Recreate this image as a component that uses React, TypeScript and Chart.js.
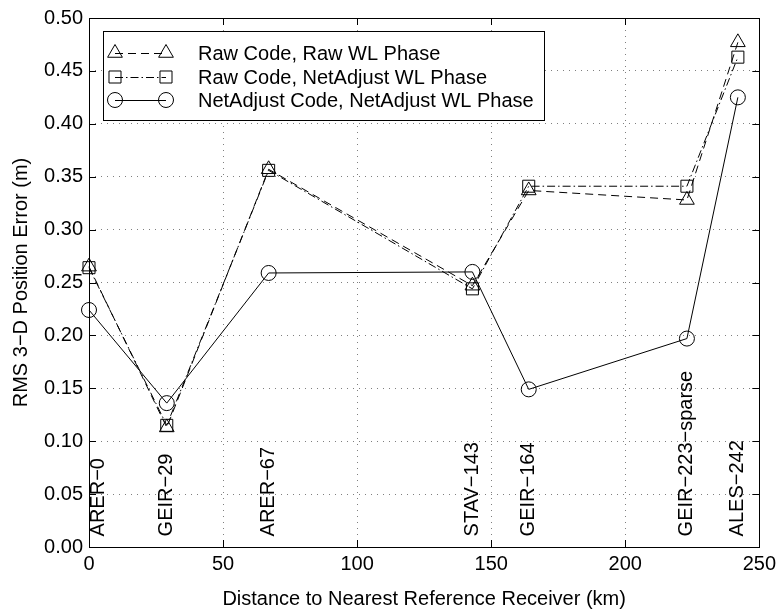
import React, { useEffect, useRef } from "react";
import { Chart, registerables } from "chart.js";

Chart.register(...registerables);

// ---- data ----
const distances = [0, 29, 67, 143, 164, 223, 242];
const rawCodeRawWL = [0.265, 0.113, 0.357, 0.247, 0.337, 0.328, 0.477];
const rawCodeNetWL = [0.264, 0.115, 0.356, 0.244, 0.341, 0.341, 0.463];
const netCodeNetWL = [0.224, 0.136, 0.259, 0.26, 0.149, 0.197, 0.425];
const seriesNames = [
  "Raw Code, Raw WL Phase",
  "Raw Code, NetAdjust WL Phase",
  "NetAdjust Code, NetAdjust WL Phase",
];
const stationNames = [
  "ARER−0",
  "GEIR−29",
  "ARER−67",
  "STAV−143",
  "GEIR−164",
  "GEIR−223−sparse",
  "ALES−242",
];
const stationLabelX = [3.7, 29, 67, 143, 164, 223, 242];
const stationLabelY = 0.01;
const xTicks = [0, 50, 100, 150, 200, 250];
const yTicks = [0, 0.05, 0.1, 0.15, 0.2, 0.25, 0.3, 0.35, 0.4, 0.45, 0.5];
const xTitle = "Distance to Nearest Reference Receiver (km)";
const yTitle = "RMS 3−D Position Error (m)";

const FONT = "'Liberation Sans', Arial, Helvetica, sans-serif";
const FS = 20;

function drawMarker(ctx: CanvasRenderingContext2D, style: string, x: number, y: number, r: number) {
  ctx.beginPath();
  if (style === "circle") {
    ctx.arc(x, y, r, 0, Math.PI * 2);
  } else if (style === "rect") {
    const s = Math.SQRT1_2 * r;
    ctx.rect(x - s, y - s, 2 * s, 2 * s);
  } else {
    let rad = 0;
    ctx.moveTo(x + Math.sin(rad) * r, y - Math.cos(rad) * r);
    rad += (2 * Math.PI) / 3;
    ctx.lineTo(x + Math.sin(rad) * r, y - Math.cos(rad) * r);
    rad += (2 * Math.PI) / 3;
    ctx.lineTo(x + Math.sin(rad) * r, y - Math.cos(rad) * r);
    ctx.closePath();
  }
  ctx.stroke();
}

const decorPlugin = {
  id: "decor",
  afterDatasetsDraw(chart: any) {
    const ctx: CanvasRenderingContext2D = chart.ctx;
    const xs = chart.scales.x;
    const ys = chart.scales.y;
    // station labels
    ctx.save();
    ctx.fillStyle = "#000";
    ctx.font = `${FS}px ${FONT}`;
    ctx.textAlign = "left";
    ctx.textBaseline = "middle";
    stationNames.forEach((name, i) => {
      const px = xs.getPixelForValue(stationLabelX[i]);
      const py = ys.getPixelForValue(stationLabelY);
      ctx.save();
      ctx.translate(px, py);
      ctx.rotate(-Math.PI / 2);
      ctx.fillText(name, 0, 0);
      ctx.restore();
    });
    ctx.restore();
  },
  afterDraw(chart: any) {
    const ctx: CanvasRenderingContext2D = chart.ctx;
    const { left, right, top, bottom } = chart.chartArea;
    const xs = chart.scales.x;
    const ys = chart.scales.y;
    ctx.save();
    ctx.strokeStyle = "#000";
    ctx.lineWidth = 1;
    ctx.setLineDash([]);
    // inward tick marks
    const tl = 7;
    ctx.beginPath();
    xTicks.forEach((v) => {
      const px = Math.round(xs.getPixelForValue(v)) + 0.5;
      ctx.moveTo(px, bottom);
      ctx.lineTo(px, bottom - tl);
      ctx.moveTo(px, top);
      ctx.lineTo(px, top + tl);
    });
    yTicks.forEach((v) => {
      const py = Math.round(ys.getPixelForValue(v)) + 0.5;
      ctx.moveTo(left, py);
      ctx.lineTo(left + tl, py);
      ctx.moveTo(right, py);
      ctx.lineTo(right - tl, py);
    });
    ctx.stroke();
    // frame
    ctx.strokeRect(Math.round(left) + 0.5, Math.round(top) + 0.5, Math.round(right - left), Math.round(bottom - top));

    // legend
    const bx = 103.5, by = 31.5, bw = 441, bh = 89;
    ctx.fillStyle = "#fff";
    ctx.fillRect(bx, by, bw, bh);
    ctx.strokeRect(bx, by, bw, bh);
    const rowsY = [53, 77, 100];
    const x1 = 115, x2 = 166, tx = 198;
    chart.data.datasets.forEach((ds: any, i: number) => {
      const y = rowsY[i];
      ctx.strokeStyle = "#000";
      ctx.lineWidth = 1;
      ctx.setLineDash(ds.borderDash || []);
      ctx.beginPath();
      ctx.moveTo(x1, y + 0.5);
      ctx.lineTo(x2, y + 0.5);
      ctx.stroke();
      ctx.setLineDash([]);
      drawMarker(ctx, ds.pointStyle, x1, y, ds.pointRadius);
      drawMarker(ctx, ds.pointStyle, x2, y, ds.pointRadius);
      ctx.fillStyle = "#000";
      ctx.font = `${FS}px ${FONT}`;
      ctx.textAlign = "left";
      ctx.textBaseline = "middle";
      ctx.fillText(ds.label, tx, y + 1);
    });
    ctx.restore();
  },
};

export default function App() {
  const ref = useRef<HTMLCanvasElement | null>(null);
  useEffect(() => {
    document.body.style.margin = "0";
    const canvas = ref.current;
    if (!canvas) return;
    Chart.defaults.font.family = FONT;
    const mk = (v: number[]) => distances.map((d, i) => ({ x: d, y: v[i] }));
    const common = {
      borderColor: "#000",
      borderWidth: 1,
      pointBorderColor: "#000",
      pointBackgroundColor: "rgba(0,0,0,0)",
      pointBorderWidth: 1,
      fill: false,
      tension: 0,
      clip: false as const,
    };
    const chart = new Chart(canvas, {
      type: "line",
      data: {
        datasets: [
          { ...common, label: seriesNames[0], data: mk(rawCodeRawWL), borderDash: [8, 5], pointStyle: "triangle", pointRadius: 8.5 },
          { ...common, label: seriesNames[1], data: mk(rawCodeNetWL), borderDash: [8, 3, 1.5, 3], pointStyle: "rect", pointRadius: 8.5 },
          { ...common, label: seriesNames[2], data: mk(netCodeNetWL), pointStyle: "circle", pointRadius: 7.5 },
        ] as any,
      },
      options: {
        animation: false,
        responsive: false,
        devicePixelRatio: 1,
        layout: { padding: { left: 0, right: 21, top: 17, bottom: 0 } },
        plugins: { legend: { display: false }, tooltip: { enabled: false } },
        scales: {
          x: {
            type: "linear",
            min: 0,
            max: 250,
            afterBuildTicks: (s: any) => {
              s.ticks = xTicks.map((v) => ({ value: v }));
            },
            afterFit: (s: any) => {
              s.height = 64;
            },
            ticks: {
              color: "#000",
              font: { size: FS, family: FONT },
              padding: 5,
              maxRotation: 0,
              callback: (v: any) => String(v),
            },
            grid: { color: "rgba(0,0,0,0.5)", lineWidth: 1, drawTicks: false },
            border: { display: false, dash: [1, 5] },
            title: {
              display: true,
              text: xTitle,
              color: "#000",
              font: { size: FS, family: FONT },
              padding: { top: 0, bottom: 0 },
            },
          },
          y: {
            type: "linear",
            min: 0,
            max: 0.5,
            afterBuildTicks: (s: any) => {
              s.ticks = yTicks.map((v) => ({ value: v }));
            },
            afterFit: (s: any) => {
              s.width = 89;
            },
            ticks: {
              color: "#000",
              font: { size: FS, family: FONT },
              padding: 6,
              callback: (v: any) => Number(v).toFixed(2),
            },
            grid: { color: "rgba(0,0,0,0.5)", lineWidth: 1, drawTicks: false },
            border: { display: false, dash: [1, 5] },
            title: {
              display: true,
              text: yTitle,
              color: "#000",
              font: { size: FS, family: FONT },
              padding: { top: 9, bottom: 0 },
            },
          },
        },
      },
      plugins: [decorPlugin],
    });
    return () => chart.destroy();
  }, []);
  return (
    <canvas
      ref={ref}
      width={781}
      height={611}
      style={{ display: "block", width: 781, height: 611 }}
    />
  );
}
